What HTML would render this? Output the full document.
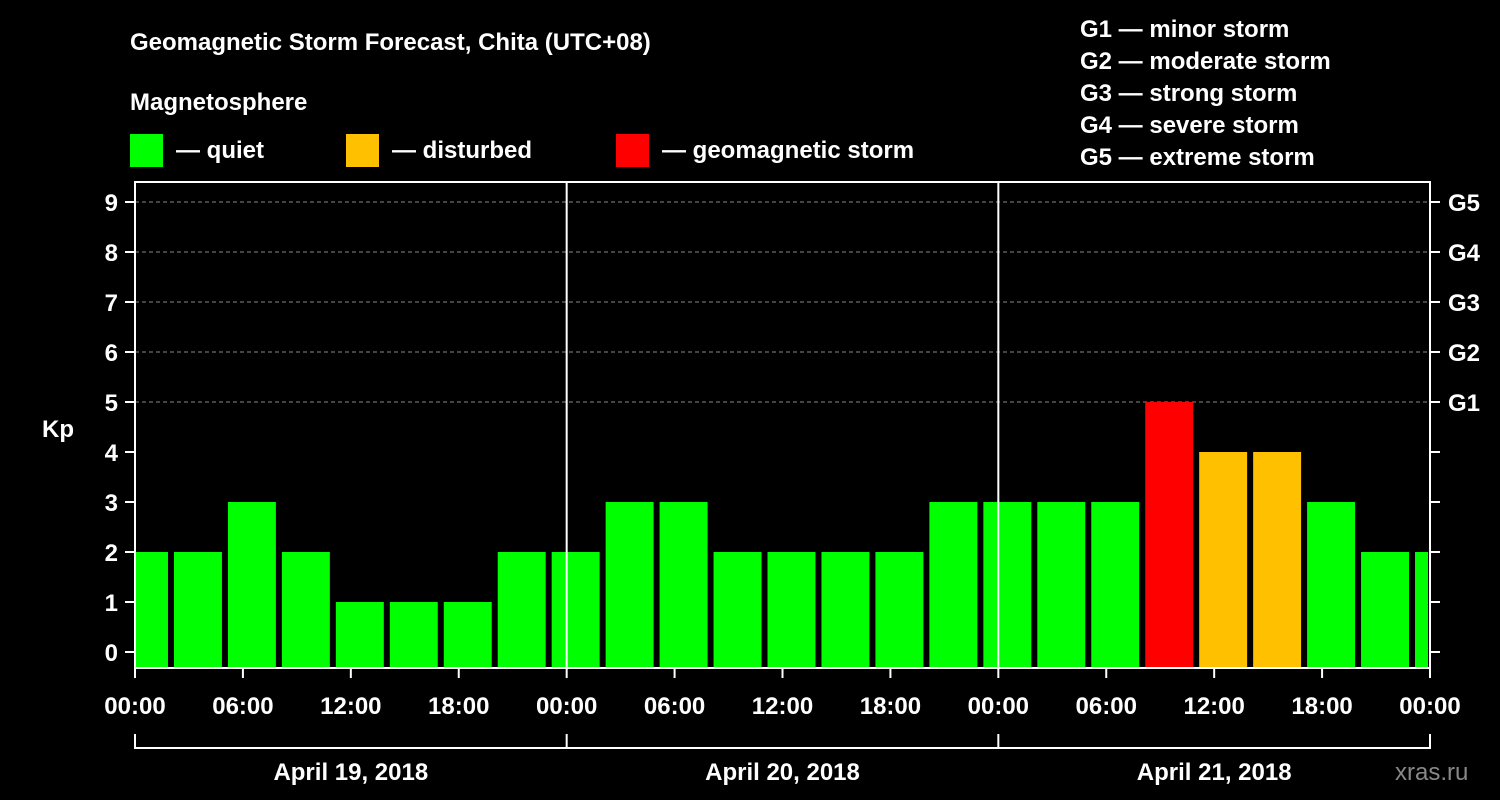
<!DOCTYPE html>
<html><head><meta charset="utf-8"><style>
html,body{margin:0;padding:0;background:#000;}
svg{display:block;font-family:"Liberation Sans",Arial,sans-serif;font-weight:bold;}
</style></head><body>
<svg id="c" width="1500" height="800" viewBox="0 0 1500 800">
<rect width="1500" height="800" fill="#000"/>
<text x="130" y="50" fill="#fff" font-size="24">Geomagnetic Storm Forecast, Chita (UTC+08)</text>
<text x="130" y="110" fill="#fff" font-size="24">Magnetosphere</text>
<g><rect x="130" y="134" width="33" height="33" fill="#00ff00"/><text x="176" y="158" fill="#fff" font-size="24">— quiet</text></g>
<g><rect x="346" y="134" width="33" height="33" fill="#ffc000"/><text x="392" y="158" fill="#fff" font-size="24">— disturbed</text></g>
<g><rect x="616" y="134" width="33" height="33" fill="#ff0000"/><text x="662" y="158" fill="#fff" font-size="24">— geomagnetic storm</text></g>
<g fill="#fff" font-size="24">
<text x="1080" y="37">G1 — minor storm</text>
<text x="1080" y="69">G2 — moderate storm</text>
<text x="1080" y="101">G3 — strong storm</text>
<text x="1080" y="133">G4 — severe storm</text>
<text x="1080" y="165">G5 — extreme storm</text>
</g>
<text x="42" y="437" fill="#fff" font-size="24">Kp</text>
<text x="1395" y="780" fill="#888" font-size="24" font-weight="normal">xras.ru</text>
<g id="grid"></g>
<g id="bars"></g>
<g id="axes"></g>
</svg>
<script>
const kpValues=[2,2,3,2,1,1,1,2,2,3,3,2,2,2,2,3,3,3,3,5,4,4,3,2,2];
const yTicks=[0,1,2,3,4,5,6,7,8,9];
const gLabels=["","","","","","G1","G2","G3","G4","G5"];
const xTickLabels=["00:00","06:00","12:00","18:00","00:00","06:00","12:00","18:00","00:00","06:00","12:00","18:00","00:00"];
const dateLabels=["April 19, 2018","April 20, 2018","April 21, 2018"];
const NS="http://www.w3.org/2000/svg";
const L=135,R=1430,T=182,B=668;
const hourPx=(R-L)/72;
const y=v=>652-50*v;
const x=h=>L+h*hourPx;
function mk(tag,attrs,parent){const e=document.createElementNS(NS,tag);for(const k in attrs)e.setAttribute(k,attrs[k]);parent.appendChild(e);return e;}
const grid=document.getElementById('grid'),bars=document.getElementById('bars'),axes=document.getElementById('axes');
yTicks.forEach(v=>{if(v>=5){const l=mk('line',{x1:L,x2:R,y1:y(v),y2:y(v),stroke:'#888','stroke-dasharray':'4,3','stroke-width':1},grid);

}});
kpValues.forEach((v,i)=>{
 const h0=-1+3*i; let x0=x(h0)+3, x1=x(h0+3)-3;
 x0=Math.max(x0,L+1); x1=Math.min(x1,R-2);
 const col=v>=5?'#ff0000':(v>=4?'#ffc000':'#00ff00');
 const r=mk('rect',{x:x0,y:y(v),width:x1-x0,height:B-y(v),fill:col},bars);
 
 
});
const fr=mk('rect',{x:L,y:T,width:R-L,height:B-T,fill:'none',stroke:'#fff','stroke-width':2},axes);


[24,48].forEach(h=>{const l=mk('line',{x1:x(h),x2:x(h),y1:T,y2:B,stroke:'#fff','stroke-width':2},axes);

});
yTicks.forEach((v,i)=>{
 mk('line',{x1:L-10,x2:L,y1:y(v),y2:y(v),stroke:'#fff','stroke-width':2},axes);
 mk('line',{x1:R,x2:R+10,y1:y(v),y2:y(v),stroke:'#fff','stroke-width':2},axes);
 const t=mk('text',{x:118,y:y(v)+9,fill:'#fff','font-size':24,'text-anchor':'end'},axes);t.textContent=v;
 
 
 if(gLabels[i]){const g=mk('text',{x:1448,y:y(v)+9,fill:'#fff','font-size':24},axes);g.textContent=gLabels[i];
 
 }
});
xTickLabels.forEach((s,i)=>{
 const h=i*6;
 mk('line',{x1:x(h),x2:x(h),y1:B,y2:B+10,stroke:'#fff','stroke-width':2},axes);
 const t=mk('text',{x:x(h),y:714,fill:'#fff','font-size':24,'text-anchor':'middle'},axes);t.textContent=s;
 
 
});
mk('line',{x1:L,x2:R,y1:748,y2:748,stroke:'#fff','stroke-width':2},axes);
[0,24,48,72].forEach(h=>mk('line',{x1:x(h),x2:x(h),y1:734,y2:749,stroke:'#fff','stroke-width':2},axes));
dateLabels.forEach((s,i)=>{const t=mk('text',{x:x(i*24+12),y:780,fill:'#fff','font-size':24,'text-anchor':'middle'},axes);t.textContent=s;
 
 });
</script>
</body></html>
